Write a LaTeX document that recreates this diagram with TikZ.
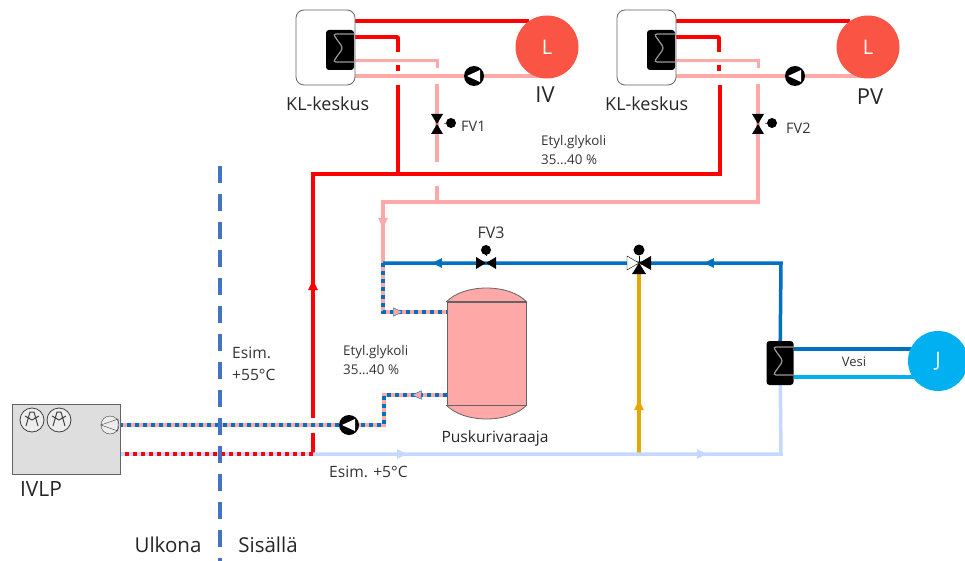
\documentclass[tikz,border=0pt]{standalone}
\usepackage{fontspec}
\setmainfont{Open Sans}
\usetikzlibrary{positioning,arrows.meta,backgrounds,decorations.markings}
\definecolor{punainen}{RGB}{255,0,0}
\definecolor{roosa}{RGB}{255,168,168}
\definecolor{sininen}{RGB}{0,112,192}
\definecolor{vaalea}{RGB}{197,216,255}
\definecolor{keltainen}{RGB}{230,168,0}
\definecolor{korall}{RGB}{250,85,68}
\definecolor{taivas}{RGB}{0,176,240}
\definecolor{raja}{RGB}{68,114,196}
\definecolor{harmaaf}{RGB}{100,100,100}
\tikzset{
  lbl/.style={inner sep=0pt, font=\fontsize{13.4}{14}\selectfont, text=black!80},
  big/.style={inner sep=0pt, font=\fontsize{18}{18}\selectfont, text=black!85},
  load/.style={circle, fill=#1, minimum size=63pt, inner sep=0pt, text=white, font=\fontsize{20}{20}\selectfont},
  klbox/.style={rectangle, rounded corners=8pt, draw=harmaaf, fill=white, thick, minimum width=59pt, minimum height=75pt},
  sumbox/.style={rectangle, rounded corners=3pt, fill=black, minimum width=28pt, minimum height=40pt, inner sep=0pt,
    path picture={\draw[black!40, line width=1.2pt] (path picture bounding box.center) ++(14,-16) -- ++(-21,0) -- ++(10,14) -- ++(-10,14) -- ++(21,0);}},
  pump/.style={circle, fill=black, minimum size=20pt, inner sep=0pt,
    path picture={\fill[white] (path picture bounding box.center) ++(-7,0) -- ++(13,-6) -- ++(0,12) -- cycle;}},
  ball/.style={circle, fill=black, minimum size=#1, inner sep=0pt},
  vvalve/.style={minimum width=14pt, minimum height=22pt, inner sep=0pt,
    path picture={\fill (path picture bounding box.center) ++(-6,-10) -- ++(12,0) -- ++(-12,20) -- ++(12,0) -- cycle;}},
  hvalve/.style={minimum width=22pt, minimum height=14pt, inner sep=0pt,
    path picture={\fill (path picture bounding box.center) ++(-10,-6) -- ++(0,12) -- ++(20,-12) -- ++(0,12) -- cycle;}},
  fan/.style={circle, draw=black!75, fill=black!7, thick, minimum size=24pt, inner sep=0pt,
    path picture={\draw[black!75, line width=1pt] (path picture bounding box.center) -- ++(210:8) (path picture bounding box.center) -- ++(330:8)
      (path picture bounding box.center) ++(-6,6) -- ++(4,-14) -- ++(4,0) -- ++(4,14);}},
  pipe/.style 2 args={draw=#1, line width=#2},
  duo/.style 2 args={preaction={draw=#1, solid, line width=3.5pt}, draw=#2, line width=3.5pt, dash pattern=on 4pt off 4pt},
  flow/.style 2 args={postaction={decorate, decoration={markings, mark=at position #1 with {\arrow{Triangle[length=10pt, width=9pt, #2]}}}}},
}
\begin{document}
\begin{tikzpicture}[x=1pt, y=-1pt]
\useasboundingbox (0,0) rectangle (965,561);
% kiertopiirit
\foreach \u/\dx/\L in {1/0/L, 2/321/L}{
  \node[klbox] (kl\u) at (325.5+\dx,47.5) {};
  \node[sumbox] (sum\u) at (340+\dx,50) {};
  \node[load=korall] (load\u) at (547+\dx,47) {\L};
  \node[pump] (pump\u) at (474+\dx,76) {};
  \node[vvalve] (fv\u) at (437+\dx,124) {};
  \node[ball=10pt] (fvball\u) at (451+\dx,123) {};
  \coordinate (hot\u) at (398+\dx,37);
  \coordinate (cold\u) at (437+\dx,61);
  \coordinate (low\u) at (437+\dx,84);
  \begin{scope}[on background layer]
    \draw[pipe={punainen}{4pt}] (kl\u.center |- load\u.125) -- (load\u.125);
    \draw[pipe={punainen}{3.5pt}, line join=round] (sum\u.center |- hot\u) -- (hot\u) -- (398+\dx,52);
    \draw[pipe={punainen}{3.5pt}] (398+\dx,65) -- (398+\dx,71);
    \draw[pipe={roosa}{3pt}] (sum\u.east |- cold\u) -- (cold\u) -- (437+\dx,68);
    \draw[pipe={roosa}{3.5pt}] (kl\u.center |- pump\u) -- (pump\u) -- (load\u.center |- pump\u);
    \draw (fv\u) -- (fvball\u);
  \end{scope}
}
\node[big, right] (kltxt1) at (286,104) {KL-keskus};
\node[big, right] (kltxt2) at (605,104) {KL-keskus};
\node[big] (iv) at (545,95) {\fontsize{22}{22}\selectfont IV};
\node[big] (pv) at (870,97) {\fontsize{22}{22}\selectfont PV};
\node[lbl, right] (fv1txt) at (461,126) {\fontsize{14.5}{15}\selectfont FV1};
\node[lbl, right] (fv2txt) at (786,128) {\fontsize{14.5}{15}\selectfont FV2};
% yhteiset linjat
\coordinate (mainred) at (313,174);
\coordinate (maincold) at (383,202);
\coordinate (midcold) at (383,263);
\coordinate (bluecorner) at (781,263);
\node[hvalve] (fv3) at (486,263) {};
\node[ball=10pt] (fv3ball) at (486,250) {};
\node[lbl, font=\fontsize{16}{16}\selectfont] (fv3txt) at (491,233) {FV3};
\coordinate (mix) at (639,263);
\node[ball=11pt] (mixball) at (639,250) {};
\node[sumbox, minimum width=27pt, minimum height=44pt] (sum3) at (780,363) {};
\node[load=taivas, minimum size=60pt] (loadj) at (938,361) {J};
\node[lbl, font=\fontsize{13}{13}\selectfont] (vesi) at (854,362) {Vesi};
% varaaja
\node[rectangle, draw=harmaaf, fill=roosa, thick, minimum width=79pt, minimum height=103pt, inner sep=0pt] (tank) at (486.5,353.5) {};
\fill[roosa, draw=harmaaf, thick] (tank.north west) .. controls (455,293) and (470,288) .. (486.5,288) .. controls (503,288) and (518,293) .. (tank.north east) -- cycle;
\fill[roosa, draw=harmaaf, thick] (tank.south west) .. controls (455,414) and (470,419) .. (486.5,419) .. controls (503,419) and (518,414) .. (tank.south east) -- cycle;
\node[big, font=\fontsize{15.6}{16}\selectfont] (tanktxt) at (495,438) {Puskurivaraaja};
% ulkoyksikko
\node[rectangle, draw=harmaaf, fill=black!13, thick, minimum width=108pt, minimum height=70pt] (ivlp) at (66,439) {};
\node[fan] (fan1) at (32,420) {};
\node[fan] (fan2) at (59,420) {};
\node[circle, draw=black!75, fill=black!7, minimum size=18pt, inner sep=0pt] (pump0) at (110,425) {};
\draw[black!75] (pump0.east) ++(-1,-6) -- (pump0.west) -- ++(17,6) -- cycle;
\node[big, font=\fontsize{21}{21}\selectfont] (ivlptxt) at (41,489) {IVLP};
\node[pump] (pump3) at (349,425) {};
\coordinate (upin) at (383,312);
\coordinate (lowout) at (384,395);
\coordinate (redend) at (313,454);
\begin{scope}[on background layer]
  \draw[pipe={punainen}{4pt}, flow={138pt}{}] (313,418) -- (mainred) -- (720,174) -- (720,85);
  \draw[pipe={punainen}{4pt}] (313,433) -- (redend);
  \draw[pipe={punainen}{4pt}] (398,85) -- (398,174);
  \draw[pipe={roosa}{3.5pt}] (low1) -- (437,162);
  \draw[pipe={roosa}{3.5pt}] (437,186) -- (437,202);
  \draw[pipe={roosa}{3.5pt}, flow={519pt}{}] (low2) -- (758,202) -- (maincold) -- (midcold);
  \draw[pipe={sininen}{3.5pt}, flow={155pt}{}, flow={427pt}{}] (sum3) -- (bluecorner) -- (midcold);
  \draw[pipe={keltainen}{4pt}, flow={54pt}{}] (639,454) -- (mix);
  \draw[pipe={vaalea}{3.5pt}, flow={94pt}{}, flow={394pt}{}] (redend) -- (781,454) -- (sum3);
  \draw[pipe={sininen}{3.5pt}] (sum3.east |- 0,349) -- (loadj.center |- 0,349);
  \draw[pipe={taivas}{3.5pt}] (sum3.east |- 0,377) -- (loadj.center |- 0,377);
  \draw[duo={roosa}{sininen}] (midcold) -- (upin) -- (tank.west |- upin);
  \draw[duo={roosa}{sininen}] (tank.west |- lowout) -- (lowout) -- (384,425) -- (pump3);
  \draw[duo={roosa}{sininen}] (pump3) -- (ivlp.east |- pump3);
  \draw[duo={vaalea}{punainen}] (redend) -- (ivlp.east |- redend);
  \path[flow={69pt}{fill=roosa, color=sininen}] (midcold) -- (upin) -- (tank.west |- upin);
  \path[flow={35pt}{fill=roosa, color=sininen}] (tank.west |- lowout) -- (lowout);
\end{scope}
% kolmitieventtiili
\fill[white, draw=black] (mix) -- ++(-12,-7) -- ++(0,14) -- cycle;
\fill (mix) -- ++(12,-7) -- ++(0,14) -- cycle;
\fill (mix) -- ++(-7,11) -- ++(14,0) -- cycle;
\draw (mix) -- (mixball);
\draw (fv3) -- (fv3ball);
% rajaviiva ja tekstit
\coordinate (rajay) at (220,166);
\coordinate (rajaa) at (220,561);
\draw[raja, line width=3.5pt, dash pattern=on 17pt off 11pt] (rajay) -- (rajaa);
\node[lbl, right] (et1a) at (541,142) {Etyl.glykoli};
\node[lbl, right] (et1b) at (541,160) {35...40 \%};
\node[lbl, right] (et2a) at (343,352) {Etyl.glykoli};
\node[lbl, right] (et2b) at (343,370) {35...40 \%};
\node[lbl, right] (es1a) at (232,353) {\fontsize{15.6}{16}\selectfont Esim.};
\node[lbl, right] (es1b) at (232,375) {\fontsize{15.6}{16}\selectfont +55°C};
\node[lbl, right] (es2) at (329,472) {\fontsize{15.6}{16}\selectfont Esim. +5°C};
\node[big, font=\fontsize{20.5}{21}\selectfont] (ulkona) at (168,545) {Ulkona};
\node[big, font=\fontsize{20.5}{21}\selectfont] (sisalla) at (268,545) {Sisällä};
\end{tikzpicture}
\end{document}
